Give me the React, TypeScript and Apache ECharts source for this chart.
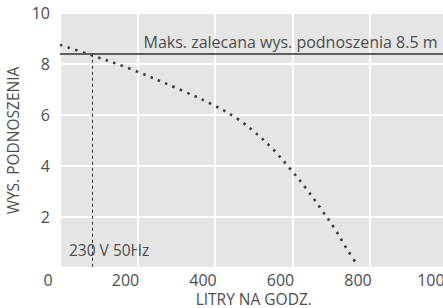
import React, { useEffect, useRef } from "react";
import * as echarts from "echarts";

const flowLph = [0, 84, 183, 318, 396, 456, 506, 552, 594, 634, 672, 708, 741, 766];
const headM = [8.75, 8.33, 7.8, 6.94, 6.39, 5.87, 5.28, 4.62, 3.89, 3.14, 2.35, 1.56, 0.73, 0.15];
const maxHead = 8.4;
const ratedFlow = 84;
const maxHeadLabel = "Maks. zalecana wys. podnoszenia 8.5 m";
const supplyLabel = "230 V 50Hz";
const xTitle = "LITRY NA GODZ.";
const yTitle = "WYS. PODNOSZENIA";

const FONT = "'Open Sans', sans-serif";
const TEXT = "#4d4d4d";

export default function App() {
  const ref = useRef<HTMLDivElement>(null);
  useEffect(() => {
    document.body.style.margin = "0";
    const chart = echarts.init(ref.current!, null, { renderer: "svg" });
    chart.setOption({
      animation: false,
      textStyle: { fontFamily: FONT },
      grid: {
        left: 60,
        top: 13,
        width: 387.5,
        height: 255,
        backgroundColor: "#e5e5e5",
        show: true,
        borderWidth: 0,
        outerBoundsMode: "none",
        containLabel: false,
      },
      xAxis: {
        type: "value",
        min: 0,
        max: 1000,
        interval: 200,
        name: xTitle,
        nameLocation: "middle",
        nameGap: 23,
        nameMoveOverlap: false,
        nameTextStyle: { fontSize: 15.5, color: TEXT, fontFamily: FONT },
        axisLine: { show: false },
        axisTick: { show: false },
        splitLine: { show: true, lineStyle: { color: "#ffffff", width: 2 } },
        axisLabel: {
          fontSize: 16,
          color: TEXT,
          fontFamily: FONT,
          margin: 4,
          padding: [0, 24, 0, 0],
          formatter: (v: number) => String(v),
        },
      },
      yAxis: {
        type: "value",
        min: 0,
        max: 10,
        interval: 2,
        name: yTitle,
        nameLocation: "middle",
        nameGap: 26,
        nameTextStyle: { fontSize: 15.5, color: TEXT, fontFamily: FONT },
        axisLine: { show: false },
        axisTick: { show: false },
        splitLine: { show: true, lineStyle: { color: "#ffffff", width: 2 } },
        axisLabel: { fontSize: 16, color: TEXT, fontFamily: FONT, margin: 10, padding: [8, 0, 0, 0], showMinLabel: false },
      },
      graphic: [
        {
          type: "text",
          left: 69,
          top: 242,
          style: { text: supplyLabel, font: `15.5px ${FONT}`, fill: TEXT },
        },
      ],
      series: [
        {
          type: "line",
          data: flowLph.map((x, i) => [x, headM[i]]),
          smooth: 0.35,
          symbol: "none",
          lineStyle: { color: "#3d3d3d", width: 2.6, type: [2.5, 5.5] },
          markLine: {
            silent: true,
            symbol: "none",
            animation: false,
            data: [
              {
                yAxis: maxHead,
                lineStyle: { color: "#5e5e5e", width: 2, type: "solid" },
                label: {
                  show: true,
                  position: "insideEndTop",
                  formatter: maxHeadLabel,
                  fontSize: 16,
                  color: TEXT,
                  fontFamily: FONT,
                  distance: [10, 4],
                },
              },
              [
                { coord: [ratedFlow, maxHead], lineStyle: { color: "#333333", width: 1, type: [3, 3] }, label: { show: false } },
                { coord: [ratedFlow, 0] },
              ],
            ],
          },
        },
      ],
    });
    return () => chart.dispose();
  }, []);
  return <div ref={ref} style={{ position: "absolute", left: 0, top: 0, width: 443, height: 308 }} />;
}
